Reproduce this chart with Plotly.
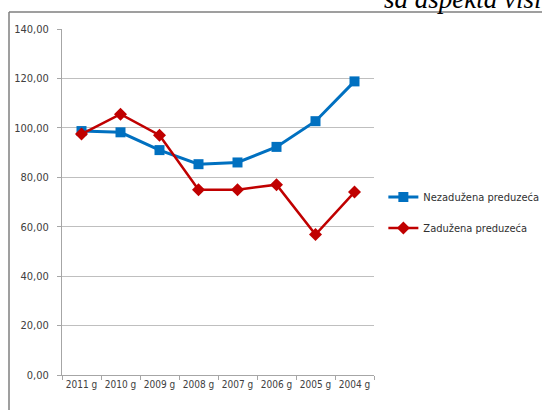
import plotly.graph_objects as go

categories = ["2011 g", "2010 g", "2009 g", "2008 g", "2007 g", "2006 g", "2005 g", "2004 g"]
nezaduzena = [98.7, 98.2, 91.0, 85.3, 86.0, 92.3, 102.7, 118.8]
zaduzena = [97.5, 105.5, 97.0, 75.0, 75.0, 77.0, 56.8, 74.0]
series_names = ["Nezadužena preduzeća", "Zadužena preduzeća"]

FONT = "DejaVu Sans Condensed, Liberation Sans Narrow, Roboto, sans-serif"

fig = go.Figure()
fig.add_trace(go.Scatter(
    x=categories, y=nezaduzena, name=series_names[0], mode="lines+markers",
    line=dict(color="#0070C0", width=3),
    marker=dict(symbol="square", size=10, color="#0070C0"),
    legendgroup="a",
))
fig.add_trace(go.Scatter(
    x=categories, y=zaduzena, name=series_names[1], mode="lines+markers",
    line=dict(color="#C00000", width=2.5),
    marker=dict(symbol="diamond", size=10, color="#C00000"),
    legendgroup="b",
))

fig.update_layout(
    width=542, height=410,
    margin=dict(l=62, r=168, t=29, b=35, autoexpand=False),
    paper_bgcolor="white", plot_bgcolor="white",
    separators=", ",
    font=dict(family=FONT, size=11, color="#404040"),
    legend=dict(x=1.03, y=0.47, xanchor="left", yanchor="middle",
                traceorder="grouped", tracegroupgap=12,
                font=dict(family=FONT, size=11, color="#303030"),
                itemwidth=30),
    xaxis=dict(type="category", showgrid=False, showline=True, linecolor="#A6A6A6",
               linewidth=1, ticks="outside", tickson="boundaries", ticklen=4,
               tickcolor="#A6A6A6", tickfont=dict(size=10, color="#404040"),
               tickangle=0, automargin=False, range=[-0.5, 7.5]),
    yaxis=dict(range=[0, 140], tickvals=[0, 20, 40, 60, 80, 100, 120, 140],
               tickformat=".2f", showgrid=True, gridcolor="#BFBFBF", gridwidth=1,
               showline=True, linecolor="#A6A6A6", ticks="outside", ticklen=4,
               ticklabelstandoff=6,
               tickcolor="#A6A6A6", zeroline=False, automargin=False,
               tickfont=dict(size=11, color="#404040")),
    shapes=[
        dict(type="line", xref="paper", yref="paper",
             x0=(9 - 62) / 312, x1=(545 - 62) / 312, y0=(375 - 12) / 346, y1=(375 - 12) / 346,
             line=dict(color="#7F7F7F", width=1.5)),
        dict(type="line", xref="paper", yref="paper",
             x0=(9 - 62) / 312, x1=(9 - 62) / 312, y0=(375 - 12) / 346, y1=(375 - 415) / 346,
             line=dict(color="#7F7F7F", width=1.5)),
    ],
    annotations=[
        dict(text="<i>sa aspekta visine</i>", xref="paper", yref="paper",
             x=(382 - 62) / 312, y=(375 + 1) / 346, xanchor="left", yanchor="middle",
             showarrow=False, font=dict(family="Liberation Serif, serif", size=27, color="#000000")),
    ],
)

fig.write_html("out.html", config={"displayModeBar": False},
               post_script="document.body.style.margin='0';")
